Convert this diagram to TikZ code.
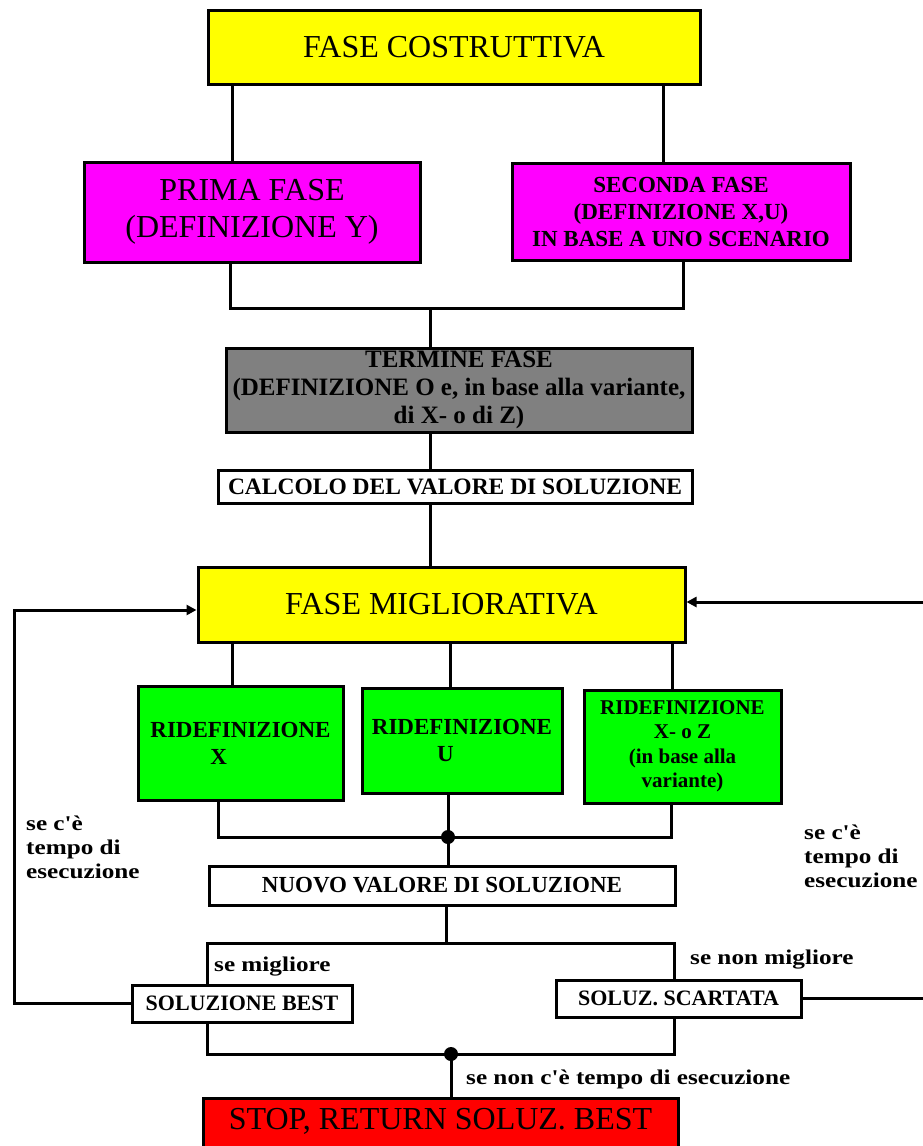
\documentclass[tikz,border=0pt]{standalone}
\usepackage{fontspec}
\setmainfont{Liberation Serif}
\newfontfamily\widefont[FakeStretch=1.2]{Liberation Serif}
\usetikzlibrary{arrows.meta}
\definecolor{cyel}{RGB}{255,255,0}
\definecolor{cmag}{RGB}{255,0,255}
\definecolor{cgrn}{RGB}{0,255,0}
\definecolor{cred}{RGB}{255,0,0}
\definecolor{cgry}{RGB}{128,128,128}

\begin{document}
\begin{tikzpicture}[x=1pt,y=-1pt,
  box/.style={draw, line width=3pt, align=center, inner sep=2pt},
  big/.style={font=\fontsize{32}{37}\selectfont},
  med/.style={font=\bfseries\fontsize{23}{27}\selectfont},
  sml/.style={font=\bfseries\fontsize{21}{24.5}\selectfont},
  lbl/.style={font=\widefont\bfseries\fontsize{21}{24}\selectfont, align=left, inner sep=0pt},
  wire/.style={line width=3pt},
  arr/.style={wire, -{Triangle[length=10pt,width=10pt]}}]
\useasboundingbox (0,0) rectangle (923,1146);

\node[box, big, fill=cyel, minimum width=492, minimum height=74] (A) at (454,47) {FASE COSTRUTTIVA};
\node[box, big, fill=cmag, minimum width=336, minimum height=100] (B) at (252,212) {PRIMA FASE\\(DEFINIZIONE Y)};
\node[box, med, fill=cmag, minimum width=338, minimum height=97] (C) at (681,211.5) {SECONDA FASE\\(DEFINIZIONE X,U)\\IN BASE A UNO SCENARIO};
\node[box, font=\bfseries\fontsize{25}{28}\selectfont, fill=cgry, minimum width=466, minimum height=84] (D) at (459,390) {TERMINE FASE\\(DEFINIZIONE O e, in base alla variante,\\di X- o di Z)};
\node[box, font=\bfseries\fontsize{23.5}{27}\selectfont, fill=white, minimum width=474, minimum height=33] (E) at (455,486.5) {CALCOLO DEL VALORE DI SOLUZIONE};
\node[box, big, fill=cyel, minimum width=487, minimum height=75] (F) at (441.5,604.5) {FASE MIGLIORATIVA};

\node[box, med, fill=cgrn, minimum width=205, minimum height=114] (G1) at (240.5,743) {RIDEFINIZIONE\\X\hphantom{MM}};
\node[box, med, fill=cgrn, minimum width=200, minimum height=105] (G2) at (462,740.5) {RIDEFINIZIONE\\U\hphantom{NN}};
\node[box, sml, fill=cgrn, minimum width=197, minimum height=113] (G3) at (682.5,746.5) {RIDEFINIZIONE\\X- o Z\\(in base alla\\variante)};

\node[box, med, fill=white, minimum width=466, minimum height=39] (H) at (442,885.5) {NUOVO VALORE DI SOLUZIONE};
\node[box, font=\bfseries\fontsize{22}{24}\selectfont, fill=white, minimum width=220, minimum height=37] (I1) at (242,1003.5) {SOLUZIONE BEST};
\node[box, font=\bfseries\fontsize{22}{24}\selectfont, fill=white, minimum width=245, minimum height=37] (I2) at (678.5,998.5) {SOLUZ. SCARTATA};
\node[box, big, fill=cred, minimum width=475, text height=24pt, text depth=30pt, inner ysep=7pt, anchor=north] (J) at (440.5,1097) {STOP, RETURN SOLUZ. BEST};

\node[lbl, anchor=west] (lm) at (214,967) {se migliore};
\node[lbl, anchor=west] (lnm) at (690,960) {se non migliore};
\node[lbl, anchor=north west] (ll) at (26,816) {se c'è\\tempo di\\esecuzione};
\node[lbl, anchor=north west] (lr) at (804,825) {se c'è\\tempo di\\esecuzione};
\node[lbl, anchor=west] (lstop) at (466,1079) {se non c'è tempo di esecuzione};

\coordinate (j1) at (430,308);
\coordinate (j2) at (448,837);
\coordinate (j3) at (446,943);
\coordinate (j4) at (451,1054);
\coordinate (cl) at (14,610);
\coordinate (cr) at (926,602);

\draw[wire] ([xshift=-20pt]B.north) -- ([xshift=-20pt]B.north |- A.south);
\draw[wire] ([xshift=-18pt]C.north) -- ([xshift=-18pt]C.north |- A.south);
\draw[wire] ([xshift=-22pt]B.south) |- (j1) -| ([xshift=2pt]C.south);
\draw[wire] (j1) -- (j1 |- D.north);
\draw[wire] (j1 |- D.south) -- (j1 |- E.north);
\draw[wire] (j1 |- E.south) -- (j1 |- F.north);

\draw[wire] ([xshift=-8pt]G1.north) -- ([xshift=-8pt]G1.north |- F.south);
\draw[wire] ([xshift=-12pt]G2.north) -- ([xshift=-12pt]G2.north |- F.south);
\draw[wire] ([xshift=-10pt]G3.north) -- ([xshift=-10pt]G3.north |- F.south);
\draw[wire] ([xshift=-22pt]G1.south) |- (j2) -| ([xshift=-11pt]G3.south);
\draw[wire] ([xshift=-14pt]G2.south) -- (j2);
\fill (j2) circle (7pt);
\draw[wire] (j2) -- (j2 |- H.north);

\draw[wire] (j3 |- H.south) -- (j3);
\draw[wire] ([xshift=-35pt]I1.north) |- (j3) -| ([xshift=-4pt]I2.north);
\draw[wire] ([xshift=-35pt]I1.south) |- (j4) -| ([xshift=-4pt]I2.south);
\fill (j4) circle (7pt);
\draw[wire] (j4) -- (j4 |- J.north);

\draw[arr] (I1.west) -| (cl) -- (cl -| F.west);
\draw[arr] (I2.east) -| (cr) -- (cr -| F.east);

\end{tikzpicture}
\end{document}
